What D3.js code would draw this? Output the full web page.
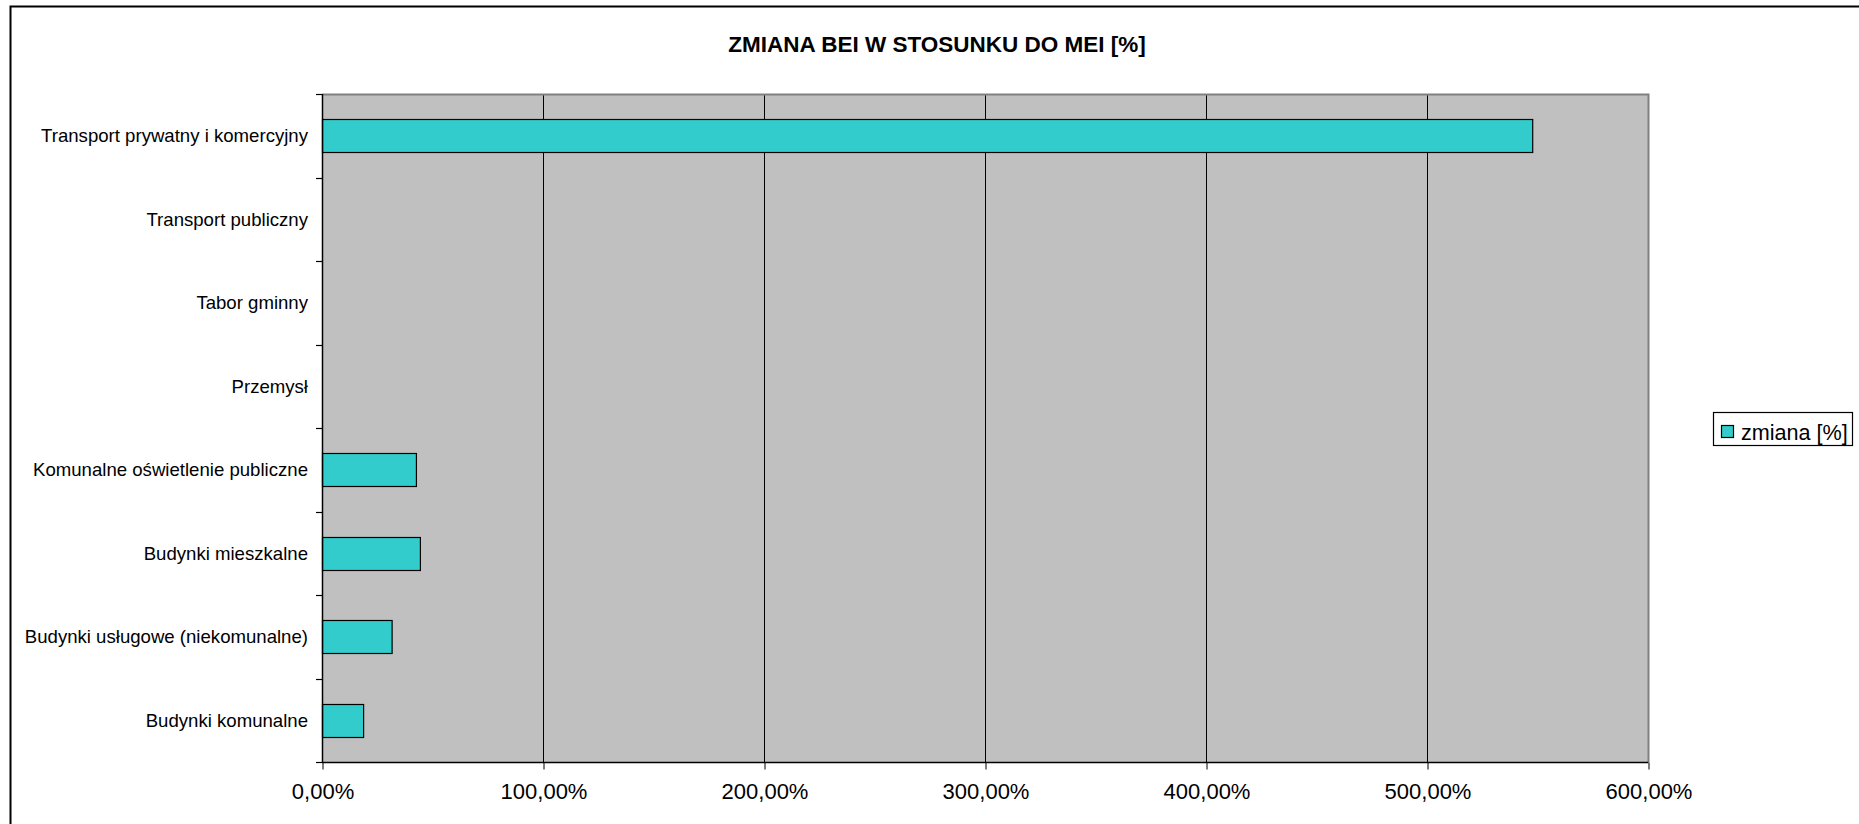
<!DOCTYPE html>
<html>
<head>
<meta charset="utf-8">
<script src="https://cdn.jsdelivr.net/npm/d3@7/dist/d3.min.js"></script>
<style>
  html, body { margin: 0; padding: 0; background: #fff; }
  svg { display: block; font-family: "Liberation Sans", Arial, sans-serif; }
</style>
</head>
<body>
<svg id="chart" width="1859" height="824"></svg>
<script>
const title = "ZMIANA BEI W STOSUNKU DO MEI [%]";
const categories = [
  "Transport prywatny i komercyjny",
  "Transport publiczny",
  "Tabor gminny",
  "Przemysł",
  "Komunalne oświetlenie publiczne",
  "Budynki mieszkalne",
  "Budynki usługowe (niekomunalne)",
  "Budynki komunalne"
];
const seriesName = "zmiana [%]";
const values = [5.476, null, null, null, 0.425, 0.443, 0.315, 0.186];
const xTicks = [0, 1, 2, 3, 4, 5, 6];

const svg = d3.select("#chart");
const W = 1859, H = 824;
const plot = { left: 322, right: 1648, top: 94, bottom: 762 };

svg.append("rect").attr("x", 0).attr("y", 0).attr("width", W).attr("height", H).attr("fill", "#fff");

// outer chart border (left + top visible)
svg.append("path")
  .attr("d", `M10.5,${H} V6.5 H${W}`)
  .attr("fill", "none").attr("stroke", "#000").attr("stroke-width", 2);

const pl = d3.formatLocale({ decimal: ",", thousands: " ", grouping: [3], currency: ["", " zł"] });
const fmt = pl.format(".2%");

const x = d3.scaleLinear().domain([0, 6]).range([plot.left, plot.right]);
const y = d3.scaleBand().domain(categories).range([plot.top, plot.bottom])
  .paddingInner(0.6).paddingOuter(0.3);

// plot background
svg.append("rect")
  .attr("x", plot.left).attr("y", plot.top)
  .attr("width", plot.right - plot.left).attr("height", plot.bottom - plot.top)
  .attr("fill", "#C0C0C0");

// gridlines
svg.append("g").selectAll("line").data(xTicks.filter(d => d > 0 && d < 6)).join("line")
  .attr("x1", d => Math.round(x(d)) + 0.5).attr("x2", d => Math.round(x(d)) + 0.5)
  .attr("y1", plot.top).attr("y2", plot.bottom)
  .attr("stroke", "#000").attr("stroke-width", 1);

// plot border top & right (grey)
svg.append("path")
  .attr("d", `M${plot.left},${plot.top + 0.5} H${plot.right + 0.5} V${plot.bottom}`)
  .attr("fill", "none").attr("stroke", "#808080").attr("stroke-width", 2);

// bars
const barData = categories.map((c, i) => ({ c, v: values[i] })).filter(d => d.v != null);
svg.append("g").selectAll("rect").data(barData).join("rect")
  .attr("x", x(0) + 0.5)
  .attr("y", d => Math.round(y(d.c)) + 0.5)
  .attr("width", d => x(d.v) - x(0))
  .attr("height", Math.round(y.bandwidth()))
  .attr("fill", "#33CCCC").attr("stroke", "#000").attr("stroke-width", 1.2);

// x axis
const xAxis = d3.axisBottom(x).tickValues(xTicks).tickFormat(fmt).tickSize(7).tickPadding(14);
const gx = svg.append("g").attr("transform", `translate(0.5,${plot.bottom + 0.5})`).call(xAxis);
gx.select(".domain").attr("stroke", "#000").attr("stroke-width", 1.5).attr("d", `M${plot.left - 0.5},0H${plot.right}`);
gx.selectAll(".tick line").attr("stroke", "#000");
gx.selectAll(".tick text").attr("font-size", 22).attr("fill", "#000")
  .attr("font-family", '"Liberation Sans", Arial, sans-serif');

// y axis (ticks at band boundaries)
svg.append("line")
  .attr("x1", plot.left + 0.5).attr("x2", plot.left + 0.5)
  .attr("y1", plot.top).attr("y2", plot.bottom + 1)
  .attr("stroke", "#000").attr("stroke-width", 1.5);
const bounds = d3.range(categories.length + 1).map(i => plot.top + i * y.step());
svg.append("g").selectAll("line").data(bounds).join("line")
  .attr("x1", plot.left - 6).attr("x2", plot.left)
  .attr("y1", d => Math.round(d) + 0.5).attr("y2", d => Math.round(d) + 0.5)
  .attr("stroke", "#000").attr("stroke-width", 1.2);

svg.append("g").selectAll("text").data(categories).join("text")
  .attr("x", 308)
  .attr("y", d => y(d) + y.bandwidth() / 2)
  .attr("dy", "0.35em")
  .attr("text-anchor", "end")
  .attr("font-size", 18.6).attr("fill", "#000")
  .text(d => d);

// title
svg.append("text")
  .attr("x", 937).attr("y", 52)
  .attr("text-anchor", "middle")
  .attr("font-size", 22.5).attr("font-weight", "bold").attr("fill", "#000")
  .text(title);

// legend
const lg = svg.append("g");
lg.append("rect").attr("x", 1713.5).attr("y", 412.5).attr("width", 139).attr("height", 33)
  .attr("fill", "#fff").attr("stroke", "#000").attr("stroke-width", 1.2);
lg.append("rect").attr("x", 1721.5).attr("y", 425.5).attr("width", 12).attr("height", 12)
  .attr("fill", "#33CCCC").attr("stroke", "#000").attr("stroke-width", 1.2);
lg.append("text").attr("x", 1741).attr("y", 432).attr("dy", "0.35em")
  .attr("font-size", 21.6).attr("fill", "#000").text(seriesName);
</script>
</body>
</html>
